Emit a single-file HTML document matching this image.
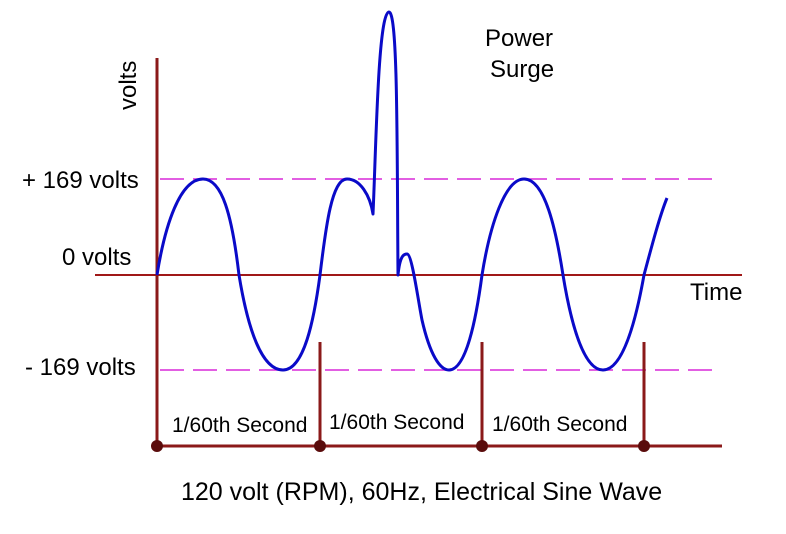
<!DOCTYPE html>
<html><head><style>body{margin:0;background:#fff}svg{display:block}</style></head><body>
<svg width="786" height="534" viewBox="0 0 786 534" font-family="Liberation Sans, sans-serif">
<rect width="786" height="534" fill="#fff"/>
<g stroke="#d828d8" stroke-width="1.6" stroke-dasharray="24,9">
<line x1="160" y1="179" x2="716" y2="179"/>
<line x1="160" y1="370" x2="716" y2="370"/>
</g>
<g stroke="#a01818" stroke-width="2">
<line x1="95" y1="275" x2="742" y2="275"/>
</g>
<g stroke="#8b1a1a" stroke-width="3">
<line x1="157" y1="58" x2="157" y2="446"/>
<line x1="155" y1="446" x2="722" y2="446"/>
<line x1="320" y1="342" x2="320" y2="446"/>
<line x1="482" y1="342" x2="482" y2="446"/>
<line x1="644" y1="342" x2="644" y2="446"/>
</g>
<g fill="#5a0c0c"><circle cx="157" cy="446" r="6"/><circle cx="320" cy="446" r="6"/><circle cx="482" cy="446" r="6"/><circle cx="644" cy="446" r="6"/></g>
<path fill="none" stroke="#0a0ac8" stroke-width="3" stroke-linejoin="round"
d="M157,275 C165,225 180,179 203,179 C222,179 232,215 239,275 C248,330 262,370 283,370 C304,370 314,320 320,275
C326,225 332,179 347,179 C360,179 370,195 373,214 C376,150 378,12 389,12 C398,12 397,150 398,275
C400,255 404,254 407,254 C412,254 418,300 422,320 C430,355 440,370 449,370 C466,370 476,320 482,275
C490,225 505,179 524,179 C545,179 556,230 563,275 C572,330 585,370 603,370 C623,370 636,320 644,275 C652,245 660,215 667,198"/>
<g font-size="24" fill="#000">
<text x="22" y="188">+ 169 volts</text>
<text x="62" y="265">0 volts</text>
<text x="25" y="375">- 169 volts</text>
<text x="690" y="300">Time</text>
<text x="485" y="46">Power</text>
<text x="490" y="77">Surge</text>
<text x="136" y="110" transform="rotate(-90 136 110)">volts</text>
<text x="172" y="432" font-size="21">1/60th Second</text>
<text x="329" y="429" font-size="21">1/60th Second</text>
<text x="492" y="431" font-size="21">1/60th Second</text>
<text x="181" y="500" font-size="25">120 volt (RPM), 60Hz, Electrical Sine Wave</text>
</g>
</svg>
</body></html>
